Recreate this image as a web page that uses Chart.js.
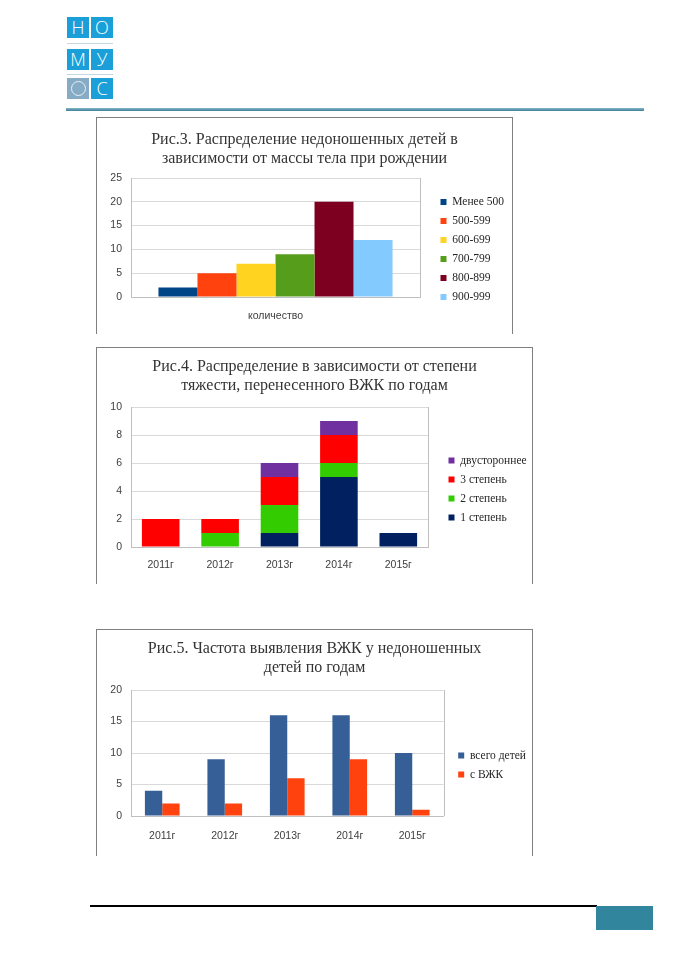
<!DOCTYPE html>
<html><head><meta charset="utf-8">
<script src="https://cdn.jsdelivr.net/npm/chart.js@4.4.1/dist/chart.umd.min.js"></script>
<style>
html,body{margin:0;padding:0;background:#fff;}
body{width:678px;height:960px;position:relative;overflow:hidden;font-family:'Liberation Sans',sans-serif;}
.box{position:absolute;width:22px;height:21px;background:#1a9fd9;color:#fff;font-family:'Open Sans','Liberation Sans',sans-serif;font-weight:300;font-size:18px;line-height:21px;text-align:center;}
.sep{position:absolute;left:67px;width:46px;height:1px;background:#c3d8e4;}
.frame{position:absolute;border:1px solid #7f7f7f;border-bottom:none;box-sizing:border-box;}
canvas{position:absolute;}
</style></head><body>
<div class="box" style="left:67px;top:17px;">Н</div>
<div class="box" style="left:91px;top:17px;">О</div>
<div class="sep" style="top:43px;"></div>
<div class="box" style="left:67px;top:49px;">М</div>
<div class="box" style="left:91px;top:49px;">У</div>
<div class="sep" style="top:74px;"></div>
<div class="box" style="left:67px;top:78px;background:#86abc4;"><div style="position:absolute;left:4px;top:3px;width:13px;height:13px;border:1px solid #e8f0f5;border-radius:50%;"></div></div>
<div class="box" style="left:91px;top:78px;">С</div>
<div style="position:absolute;left:66px;top:108px;width:578px;height:3px;background:linear-gradient(#86b6c6,#3d8097);"></div>

<div class="frame" style="left:96px;top:117px;width:417px;height:217px;"></div>
<div class="frame" style="left:96px;top:347px;width:437px;height:237px;"></div>
<div class="frame" style="left:96px;top:629px;width:437px;height:227px;"></div>
<canvas id="c1" width="415" height="215" style="left:97px;top:118px;"></canvas>
<canvas id="c2" width="435" height="235" style="left:97px;top:348px;"></canvas>
<canvas id="c3" width="435" height="224" style="left:97px;top:631px;"></canvas>

<div style="position:absolute;left:90px;top:905px;width:507px;height:2px;background:#000;"></div>
<div style="position:absolute;left:596px;top:906px;width:57px;height:24px;background:#31859c;"></div>

<script>
// ---- data ----
const fig3Title = ['Рис.3. Распределение недоношенных детей в', 'зависимости от массы тела при рождении'];
const fig3Categories = ['количество'];
const fig3Groups = ['Менее 500', '500-599', '600-699', '700-799', '800-899', '900-999'];
const fig3Counts = [2, 5, 7, 9, 20, 12];
const fig3Colors = ['#004586', '#ff420e', '#ffd320', '#579d1c', '#7e0021', '#83caff'];
const fig3YMax = 25, fig3YStep = 5;

const fig4Title = ['Рис.4. Распределение в зависимости от степени', 'тяжести, перенесенного ВЖК по годам'];
const years = ['2011г', '2012г', '2013г', '2014г', '2015г'];
const grade1 = [0, 0, 1, 5, 1];
const grade2 = [0, 1, 2, 1, 0];
const grade3 = [2, 1, 2, 2, 0];
const bilateral = [0, 0, 1, 1, 0];
const fig4Labels = ['1 степень', '2 степень', '3 степень', 'двустороннее'];
const fig4Colors = ['#002060', '#33cc00', '#ff0000', '#7030a0'];
const fig4YMax = 10, fig4YStep = 2;

const fig5Title = ['Рис.5. Частота выявления ВЖК у недоношенных', 'детей по годам'];
const totalChildren = [4, 9, 16, 16, 10];
const withIVH = [2, 2, 6, 9, 1];
const fig5Labels = ['всего детей', 'с ВЖК'];
const fig5Colors = ['#365f97', '#ff420e'];
const fig5YMax = 20, fig5YStep = 5;

// ---- helpers ----
Chart.defaults.font.family = "'Liberation Sans', sans-serif";
Chart.defaults.animation = false;

const legendPlace = {
  id: 'legendPlace',
  afterLayout(chart, args, opts) {
    const lg = chart.legend, a = chart.chartArea;
    if (!lg) return;
    lg.left = a.right + opts.gap;
    lg.right = chart.width;
    lg.width = lg.right - lg.left;
    // keep the vertical centre, but leave room so items never wrap
    lg.top = a.top + opts.dy - 80;
    lg.bottom = a.bottom + opts.dy + 80;
    lg.height = lg.bottom - lg.top;
  }
};
const plotBorder = {
  id: 'plotBorder',
  beforeDatasetsDraw(chart) {
    const {ctx, chartArea: a} = chart;
    ctx.save();
    ctx.strokeStyle = '#bfbfbf';
    ctx.lineWidth = 1;
    const x = Math.round(a.right) + 0.5;
    ctx.beginPath(); ctx.moveTo(x, Math.round(a.top)); ctx.lineTo(x, Math.round(a.bottom)); ctx.stroke();
    ctx.restore();
  }
};

function opts(p) {
  return {
    responsive: false,
    devicePixelRatio: 1,
    layout: {padding: 0},
    plugins: {
      title: {
        display: true, text: p.title, color: '#333333',
        font: {family: "'Liberation Serif', serif", size: 16, weight: 'normal', lineHeight: 19 / 16},
        padding: {top: p.tTop, bottom: p.tBottom}
      },
      legend: {
        position: 'right', fullSize: true, maxWidth: 50, reverse: !!p.reverse,
        labels: {boxWidth: 6, boxHeight: 6, padding: 7.5, color: '#262626',
          font: {family: "'Liberation Serif', serif", size: 11.5}}
      },
      legendPlace: {gap: p.gap, dy: 12},
      tooltip: {enabled: false}
    },
    scales: {
      x: {
        stacked: !!p.stacked,
        grid: {display: false, drawTicks: false},
        border: {color: '#bfbfbf'},
        ticks: {padding: p.xPad, color: '#404040', font: {size: 10.5}},
        afterFit(s) { s.height = p.xH; }
      },
      y: {
        stacked: !!p.stacked,
        min: 0, max: p.yMax,
        grid: {color: '#d9d9d9', drawTicks: false},
        border: {color: '#bfbfbf'},
        ticks: {stepSize: p.yStep, padding: 9, color: '#404040', font: {size: 10.5}},
        afterFit(s) { s.width = 34; }
      },
      gapRight: {
        axis: 'y', position: 'right', display: true,
        grid: {display: false, drawTicks: false},
        border: {display: false},
        ticks: {display: false},
        afterFit(s) { s.width = p.padRight; }
      }
    }
  };
}

new Chart(document.getElementById('c1'), {
  type: 'bar',
  data: {
    labels: fig3Categories,
    datasets: fig3Groups.map((g, i) => ({
      label: g, data: [fig3Counts[i]], backgroundColor: fig3Colors[i], borderWidth: 0,
      categoryPercentage: 0.81, barPercentage: 1
    }))
  },
  options: opts({title: fig3Title, padRight: 42, tTop: 12.5, tBottom: 9.5, gap: 13,
    xPad: 13, xH: 36, yMax: fig3YMax, yStep: fig3YStep}),
  plugins: [legendPlace, plotBorder]
});

const fig4Data = [grade1, grade2, grade3, bilateral];
new Chart(document.getElementById('c2'), {
  type: 'bar',
  data: {
    labels: years,
    datasets: fig4Data.map((d, i) => ({
      label: fig4Labels[i], data: d, backgroundColor: fig4Colors[i], borderWidth: 0,
      categoryPercentage: 0.633, barPercentage: 1
    }))
  },
  options: opts({title: fig4Title, padRight: 54, tTop: 9.5, tBottom: 11.5, gap: 13,
    xPad: 12, xH: 36, yMax: fig4YMax, yStep: fig4YStep, stacked: true, reverse: true}),
  plugins: [legendPlace, plotBorder]
});

const fig5Data = [totalChildren, withIVH];
new Chart(document.getElementById('c3'), {
  type: 'bar',
  data: {
    labels: years,
    datasets: fig5Data.map((d, i) => ({
      label: fig5Labels[i], data: d, backgroundColor: fig5Colors[i], borderWidth: 0,
      categoryPercentage: 0.555, barPercentage: 1
    }))
  },
  options: opts({title: fig5Title, padRight: 38.5, tTop: 8.2, tBottom: 12.8, gap: 7.2,
    xPad: 14.3, xH: 39, yMax: fig5YMax, yStep: fig5YStep}),
  plugins: [legendPlace, plotBorder]
});
</script>
</body></html>
